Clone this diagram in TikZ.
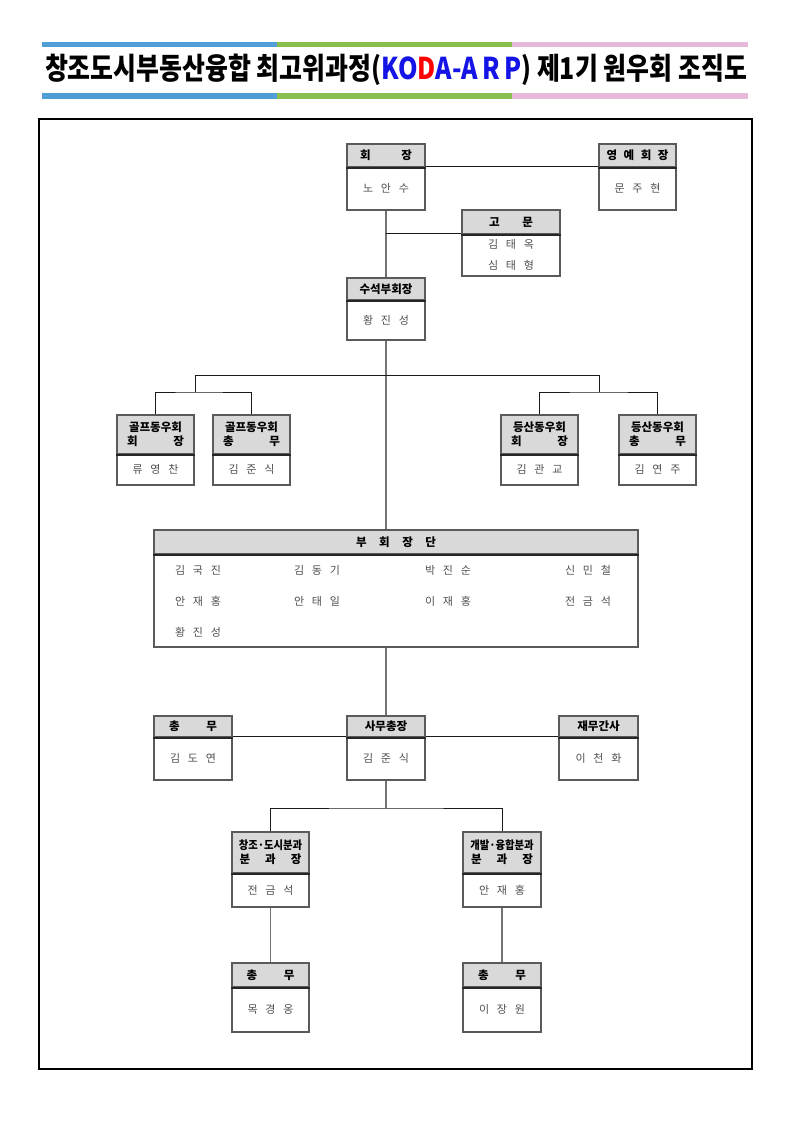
\documentclass[tikz,border=0pt]{standalone}
\usepackage{fontspec}
\setmainfont{Noto Sans CJK KR}
\usetikzlibrary{positioning,calc}

\definecolor{barblue}{HTML}{4F9FD6}
\definecolor{bargreen}{HTML}{8ABF4E}
\definecolor{barpink}{HTML}{E6B8DA}
\definecolor{hdfill}{HTML}{D9D9D9}
\definecolor{boxline}{HTML}{5A5A5A}
\definecolor{nmgray}{HTML}{505050}
\definecolor{kblue}{HTML}{1414E6}

% three-letter names, spaced out
\newcommand{\nm}[3]{#1\hspace{0.7em}#2\hspace{0.7em}#3}

\begin{document}
\begin{tikzpicture}[x=1pt, y=-1pt,
  hd/.style={draw=boxline, fill=hdfill, line width=1.1pt, inner sep=0pt,
    minimum width=78pt, minimum height=#1, align=center,
    font=\fontsize{11.5}{14}\selectfont\bfseries},
  hd/.default=23pt,
  bd/.style={draw=boxline, fill=white, line width=1.1pt, inner sep=0pt,
    minimum width=78pt, minimum height=#1, align=center, text=nmgray,
    font=\fontsize{11}{21}\selectfont},
  bd/.default=43pt,
  sep/.style={line width=2pt, black!85},
  trunk/.style={line width=1.5pt, black!55},
  link/.style={line width=0.9pt, black!90},
  vpname/.style={text=nmgray, font=\fontsize{11}{12}\selectfont}]
  \useasboundingbox (0,0) rectangle (793,1123);

  % title bars
  \fill[barblue] (42,42) rectangle (277,47);
  \fill[bargreen] (277,42) rectangle (512,47);
  \fill[barpink] (512,42) rectangle (748,47);
  \fill[barblue] (42,93) rectangle (277,99);
  \fill[bargreen] (277,93) rectangle (512,99);
  \fill[barpink] (512,93) rectangle (748,99);
  \node[font=\fontsize{30}{32}\selectfont\bfseries] (title) at (396,70)
    {\scalebox{0.83}[1]{창조도시부동산융합 최고위과정(\textcolor{kblue}{KO}\textcolor{red}{D}\textcolor{kblue}{A-A\,R\,P}) 제1기 원우회 조직도}};

  % frame
  \draw[line width=1.2pt] (39,119) rectangle (752,1069);

  % top
  \node[bd] (hj-b) at (386,188.5) {\nm{노}{안}{수}};
  \node[hd] (hj-h) at (386,155.5) {\makebox[52pt]{회\hfill 장}};
  \node[bd, minimum width=77pt] (hon-b) at (637.5,188.5) {\nm{문}{주}{현}};
  \node[hd, minimum width=77pt] (hon-h) at (637.5,155.5) {\makebox[62pt]{영\hfill 예\hfill 회\hfill 장}};
  \node[bd=42pt, minimum width=98pt] (adv-b) at (511,255) {\nm{김}{태}{옥}\\\nm{심}{태}{형}};
  \node[hd=24pt, minimum width=98pt] (adv-h) at (511,222) {\makebox[44pt]{고\hfill 문}};
  \node[bd=40pt] (svp-b) at (386,320) {\nm{황}{진}{성}};
  \node[hd=22pt] (svp-h) at (386,289) {수석부회장};

  % clubs
  \node[bd=31pt, minimum width=77pt] (golf1-b) at (155.5,469.5) {\nm{류}{영}{찬}};
  \node[hd=39pt, minimum width=77pt] (golf1-h) at (155.5,434.5) {골프동우회\\\makebox[57pt]{회\hfill 장}};
  \node[bd=31pt, minimum width=77pt] (golf2-b) at (251.5,469.5) {\nm{김}{준}{식}};
  \node[hd=39pt, minimum width=77pt] (golf2-h) at (251.5,434.5) {골프동우회\\\makebox[57pt]{총\hfill 무}};
  \node[bd=31pt, minimum width=77pt] (hike1-b) at (539.5,469.5) {\nm{김}{관}{교}};
  \node[hd=39pt, minimum width=77pt] (hike1-h) at (539.5,434.5) {등산동우회\\\makebox[57pt]{회\hfill 장}};
  \node[bd=31pt, minimum width=77pt] (hike2-b) at (657.5,469.5) {\nm{김}{연}{주}};
  \node[hd=39pt, minimum width=77pt] (hike2-h) at (657.5,434.5) {등산동우회\\\makebox[57pt]{총\hfill 무}};

  % vice presidents
  \node[bd=93pt, minimum width=484pt] (vps-b) at (396,600.5) {};
  \node[hd=24pt, minimum width=484pt] (vps-h) at (396,542) {\makebox[80pt]{부\hfill 회\hfill 장\hfill 단}};
  \node[vpname] (vp1) at (198,570) {\nm{김}{국}{진}};
  \node[vpname] (vp2) at (317,570) {\nm{김}{동}{기}};
  \node[vpname] (vp3) at (448,570) {\nm{박}{진}{순}};
  \node[vpname] (vp4) at (588,570) {\nm{신}{민}{철}};
  \node[vpname] (vp5) at (198,601) {\nm{안}{재}{홍}};
  \node[vpname] (vp6) at (317,601) {\nm{안}{태}{일}};
  \node[vpname] (vp7) at (448,601) {\nm{이}{재}{홍}};
  \node[vpname] (vp8) at (588,601) {\nm{전}{금}{석}};
  \node[vpname] (vp9) at (198,632) {\nm{황}{진}{성}};

  % secretariat
  \node[bd] (sec-b) at (193,758.5) {\nm{김}{도}{연}};
  \node[hd=21pt] (sec-h) at (193,726.5) {\makebox[48pt]{총\hfill 무}};
  \node[bd] (sg-b) at (386,758.5) {\nm{김}{준}{식}};
  \node[hd=21pt] (sg-h) at (386,726.5) {사무총장};
  \node[bd, minimum width=79pt] (fin-b) at (598.5,758.5) {\nm{이}{천}{화}};
  \node[hd=21pt, minimum width=79pt] (fin-h) at (598.5,726.5) {재무간사};

  % divisions
  \node[bd=34pt, minimum width=77pt] (div1-b) at (270.5,890) {\nm{전}{금}{석}};
  \node[hd=41pt, minimum width=77pt] (div1-h) at (270.5,852.5) {\scalebox{0.9}[1]{창조·도시분과}\\\makebox[62pt]{분\hfill 과\hfill 장}};
  \node[bd=34pt] (div2-b) at (502,890) {\nm{안}{재}{홍}};
  \node[hd=41pt] (div2-h) at (502,852.5) {\scalebox{0.9}[1]{개발·융합분과}\\\makebox[62pt]{분\hfill 과\hfill 장}};
  \node[bd=45pt, minimum width=77pt] (sec1-b) at (270.5,1009.5) {\nm{목}{경}{옹}};
  \node[hd=24pt, minimum width=77pt] (sec1-h) at (270.5,975) {\makebox[48pt]{총\hfill 무}};
  \node[bd=45pt] (sec2-b) at (502,1009.5) {\nm{이}{장}{원}};
  \node[hd=24pt] (sec2-h) at (502,975) {\makebox[48pt]{총\hfill 무}};

  % header rules
  \foreach \b in {hj,hon,adv,svp,golf1,golf2,hike1,hike2,vps,sec,sg,fin,div1,div2,sec1,sec2}
    \draw[sep] (\b-h.south west) -- (\b-h.south east);

  % connectors
  \coordinate (gtop) at (195,375);
  \coordinate (gmid) at (195,392);
  \coordinate (htop) at (599,375);
  \coordinate (hmid) at (599,392);
  \coordinate (djn) at (386,808);
  \draw[link] (hj-b.north east) -- (hon-b.north west);
  \draw[trunk] (hj-b.south) -- (svp-h.north);
  \draw[link] (adv-b.north west) -- (adv-b.north west -| hj-b.south);
  \draw[trunk] (svp-b.south) -- (svp-b.south |- vps-h.north);
  \draw[link] (gtop) -- (htop);
  \draw[link] (gtop) -- (gmid);
  \draw[link] (htop) -- (hmid);
  \draw[link] (golf1-h.north) |- (gmid) -| (golf2-h.north);
  \draw[link] (hike1-h.north) |- (hmid) -| (hike2-h.north);
  \draw[trunk] (sg-h.north |- vps-b.south) -- (sg-h.north);
  \draw[link] (sec-b.north east) -- (sg-b.north west);
  \draw[link] (sg-b.north east) -- (fin-b.north west);
  \draw[trunk] (sg-b.south) -- (djn);
  \draw[link] (div1-h.north) |- (djn) -| (div2-h.north);
  \draw[trunk] (div1-b.south) -- (sec1-h.north);
  \draw[trunk] (div2-b.south) -- (sec2-h.north);
\end{tikzpicture}
\end{document}
